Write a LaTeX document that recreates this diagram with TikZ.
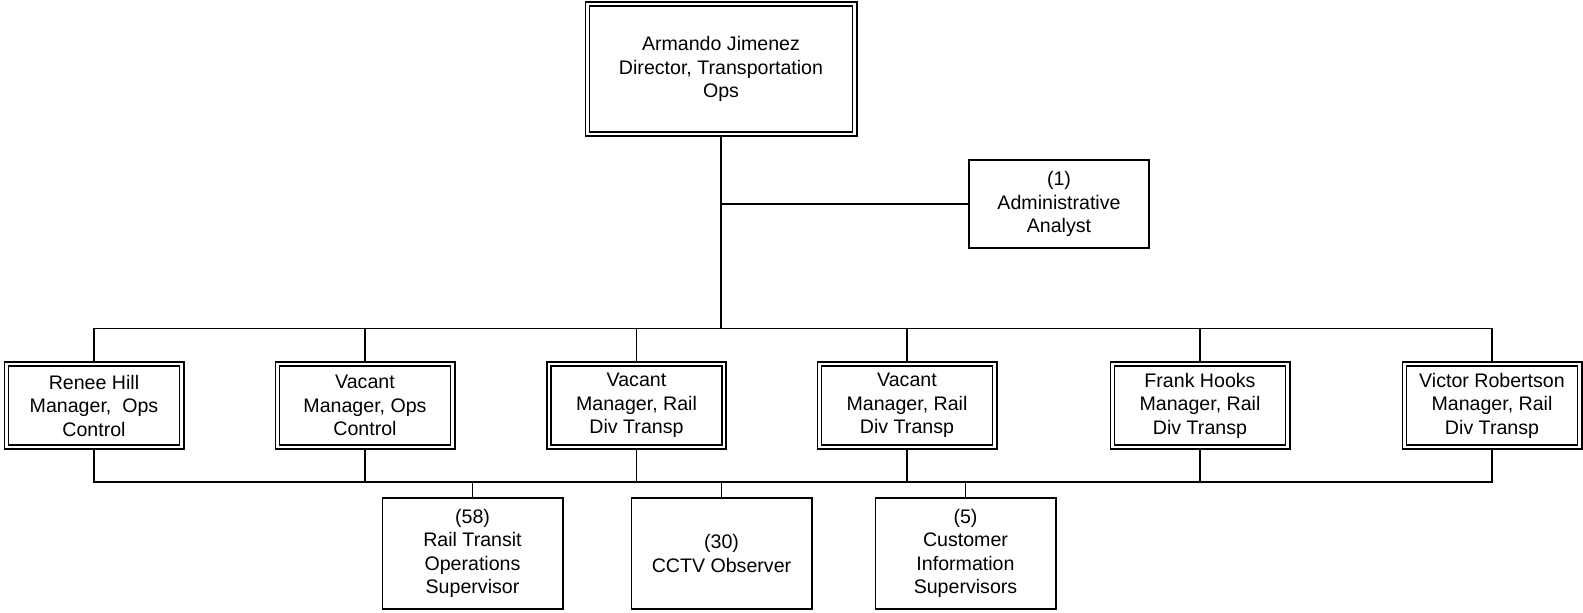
\documentclass[tikz,border=0pt]{standalone}
\usepackage{fontspec}
\setmainfont{Liberation Sans}
\usetikzlibrary{backgrounds}

\tikzset{
    post/.style={draw, line width=1.6pt, fill=white, align=center, inner sep=0pt,
        minimum width=180.4pt, minimum height=111.4pt,
        font=\fontsize{19.6}{23.5}\selectfont},
    boss/.style={post, double, double distance=2.6pt,
        minimum width=175.2pt, minimum height=83.2pt},
    link/.style={line width=1.7pt}
}

\begin{document}
\begin{tikzpicture}[x=1pt, y=-1pt]
        \useasboundingbox (0,0) rectangle (1583,613);

        % Director and staff
        \node[boss, minimum width=267.2pt, minimum height=130.2pt] (dir) at (721,69)
            {Armando Jimenez\\Director, Transportation\\Ops};
        \node[post, minimum height=88.4pt] (admin) at (1059,204)
            {(1)\\Administrative\\Analyst};

        % Managers
        \node[boss] (m1) at (94,405.5)   {Renee Hill\\Manager,\ \ Ops\\Control};
        \node[boss] (m2) at (365,405.5)  {Vacant\\Manager, Ops\\Control};
        \node[boss] (m3) at (636.5,405.5){Vacant\\Manager, Rail\\Div Transp};
        \node[boss] (m4) at (907,405.5)  {Vacant\\Manager, Rail\\Div Transp};
        \node[boss] (m5) at (1200,405.5) {Frank Hooks\\Manager, Rail\\Div Transp};
        \node[boss] (m6) at (1492,405.5) {Victor Robertson\\Manager, Rail\\Div Transp};

        % Shared supervisors
        \node[post] (s1) at (472.5,553.5) {(58)\\Rail Transit\\Operations\\Supervisor};
        \node[post] (s2) at (721.5,553.5) {(30)\\CCTV Observer};
        \node[post] (s3) at (965.5,553.5) {(5)\\Customer\\Information\\Supervisors};

        \coordinate (topbus) at (0,328.5);
        \coordinate (lowbus) at (0,482);

        % Connectors
        \begin{scope}[on background layer]
            \draw[link] (dir.south) -- (dir.south |- topbus);
            \draw[link] (dir.south |- admin.west) -- (admin.west);
            \draw[link] (m1.north) |- (m6.north |- topbus) -- (m6.north);
            \draw[link] (m1.south) |- (m6.south |- lowbus) -- (m6.south);
            \foreach \i in {2,3,4,5} {
                \draw[link] (m\i.north) -- (m\i.north |- topbus);
                \draw[link] (m\i.south) -- (m\i.south |- lowbus);
            }
            \foreach \i in {1,2,3} {
                \draw[link] (s\i.north) -- (s\i.north |- lowbus);
            }
        \end{scope}
    \end{tikzpicture}
\end{document}
